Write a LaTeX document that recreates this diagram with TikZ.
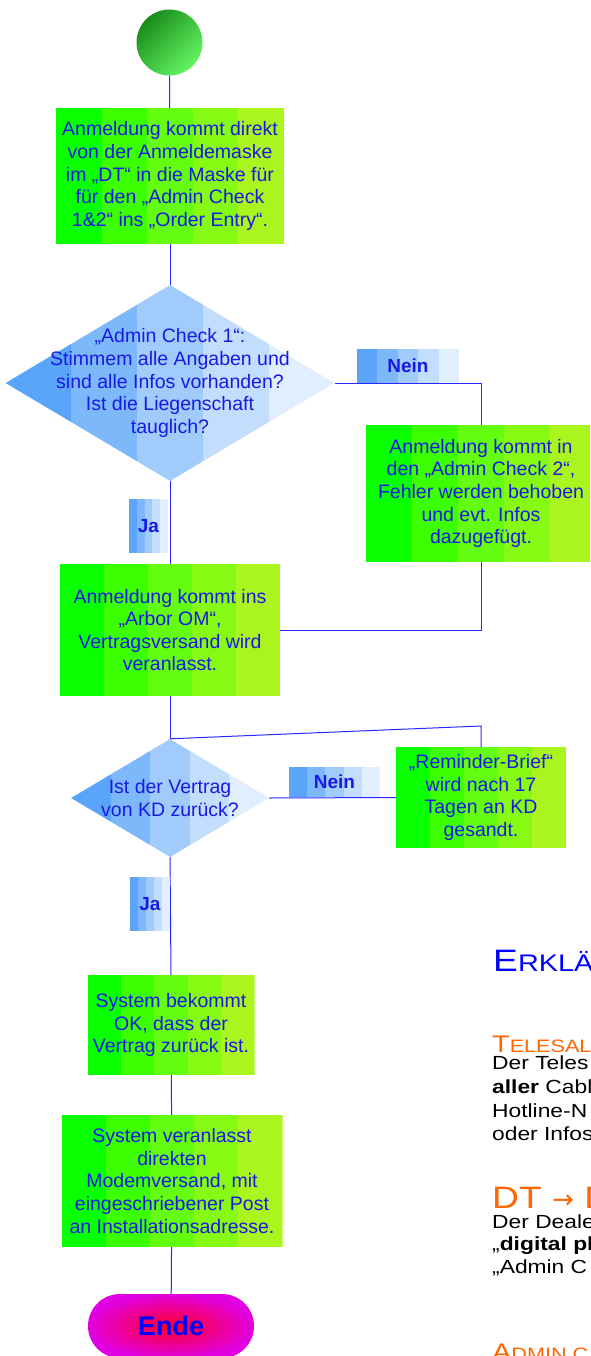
\documentclass[tikz,border=0pt]{standalone}
\usepackage{fontspec}
\setmainfont{Liberation Sans}
\newfontfamily\arrowfont{DejaVu Sans}
\newfontfamily\explfont[FakeStretch=1.2]{Liberation Sans}
\usetikzlibrary{calc, shapes.geometric}

\definecolor{grA}{RGB}{10,255,0}
\definecolor{grB}{RGB}{60,255,0}
\definecolor{grC}{RGB}{100,253,15}
\definecolor{grD}{RGB}{135,250,20}
\definecolor{grE}{RGB}{170,245,30}
\definecolor{blA}{RGB}{90,165,250}
\definecolor{blB}{RGB}{125,185,250}
\definecolor{blC}{RGB}{160,203,250}
\definecolor{blD}{RGB}{195,222,252}
\definecolor{blE}{RGB}{225,238,253}
\definecolor{txtblue}{RGB}{25,25,230}
\definecolor{lineblue}{RGB}{40,40,255}
\definecolor{headorange}{RGB}{255,102,0}

\begin{document}
\begin{tikzpicture}[
  x=1pt, y=-1pt,
  greenstripes/.style={path picture={
    \foreach \col/\sa/\sb in {grA/0/.2, grB/.2/.4, grC/.4/.6, grD/.6/.8, grE/.8/1}
      \fill[\col] ($(path picture bounding box.south west)!\sa!(path picture bounding box.south east)$)
        rectangle ($(path picture bounding box.north west)!\sb!(path picture bounding box.north east)$);}},
  bluestripes/.style={path picture={
    \foreach \col/\sa/\sb in {blA/0/.2, blB/.2/.4, blC/.4/.6, blD/.6/.8, blE/.8/1}
      \fill[\col] ($(path picture bounding box.south west)!\sa!(path picture bounding box.south east)$)
        rectangle ($(path picture bounding box.north west)!\sb!(path picture bounding box.north east)$);}},
  boxtext/.style={text=txtblue, align=center, font=\fontsize{19.5}{22.6}\selectfont},
  greenbox/.style={rectangle, inner sep=0pt, greenstripes, boxtext},
  bluediamond/.style={diamond, inner sep=0pt, bluestripes},
  bluetag/.style={rectangle, inner sep=0pt, bluestripes, text=txtblue,
    font=\bfseries\fontsize{19}{20}\selectfont},
  startdot/.style={circle, inner sep=0pt, minimum size=66pt,
    top color={rgb,255:red,25;green,140;blue,25}, bottom color={rgb,255:red,100;green,245;blue,100},
    shading angle=45},
  endpill/.style={rectangle, rounded corners=32pt, minimum width=166pt, minimum height=64pt,
    inner color={rgb,255:red,255;green,0;blue,40}, outer color={rgb,255:red,225;green,0;blue,225},
    text=blue, font=\bfseries\fontsize{27}{30}\selectfont},
  flowline/.style={draw=lineblue, line width=1pt},
  expltext/.style={anchor=base west, inner sep=0pt, font=\explfont\fontsize{19}{22}\selectfont},
  explhead/.style={anchor=base west, inner sep=0pt, text=headorange, font=\explfont},
]
  \useasboundingbox (0,0) rectangle (590,1356);
  \clip (0,0) rectangle (590,1356);

  % Ablauf
  \node[startdot] (start) at (169.5,42.5) {};
  \node[greenbox, minimum width=228pt, minimum height=136pt] (direkt) at (170,176)
    {Anmeldung kommt direkt\\von der Anmeldemaske\\im „DT“ in die Maske für\\für den „Admin Check\\1\&2“ ins „Order Entry“.};
  \node[bluediamond, minimum width=329pt, minimum height=196pt] (check1) at (170,383) {};
  \node[boxtext, inner sep=0pt] (check1txt) at (check1)
    {„Admin Check 1“:\\Stimmem alle Angaben und\\sind alle Infos vorhanden?\\Ist die Liegenschaft\\tauglich?};
  \node[greenbox, minimum width=230pt, minimum height=137pt] (check2) at (481,493.5)
    {Anmeldung kommt in\\den „Admin Check 2“,\\Fehler werden behoben\\und evt. Infos\\dazugefügt.};
  \node[greenbox, minimum width=220pt, minimum height=132pt] (arbor) at (170,630)
    {Anmeldung kommt ins\\„Arbor OM“,\\Vertragsversand wird\\veranlasst.};
  \node[bluediamond, minimum width=198pt, minimum height=118pt] (zurueck) at (170,798) {};
  \node[boxtext, inner sep=0pt] (zurueckTxt) at (zurueck) {Ist der Vertrag\\von KD zurück?};
  \node[greenbox, minimum width=170pt, minimum height=101pt] (reminder) at (481,797.5)
    {„Reminder-Brief“\\wird nach 17\\Tagen an KD\\gesandt.};
  \node[greenbox, minimum width=167pt, minimum height=100pt] (systemok) at (171,1025)
    {System bekommt\\OK, dass der\\Vertrag zurück ist.};
  \node[greenbox, minimum width=221pt, minimum height=132pt] (modem) at (172,1181)
    {System veranlasst\\direkten\\Modemversand, mit\\eingeschriebener Post\\an Installationsadresse.};
  \node[endpill] (ende) at (171,1326) {Ende};

  % Verbindungen
  \draw[flowline] (start) -- (direkt);
  \draw[flowline] (direkt) -- (check1);
  \draw[flowline] (check1.east) -| (check2.north);
  \draw[flowline] (check1.south) -- (arbor.north);
  \draw[flowline] (check2.south) |- (arbor.east);
  \draw[flowline] (arbor) -- (zurueck);
  \coordinate (remtop) at (481,726);
  \draw[flowline] (reminder.north) -- (remtop) -- (zurueck.north);
  \draw[flowline] (zurueck.east) -- (reminder.west);
  \draw[flowline] (zurueck.south) -- (systemok.north);
  \draw[flowline] (systemok) -- (modem);
  \draw[flowline] (modem) -- (ende);

  % Ja / Nein
  \node[bluetag, minimum width=102pt, minimum height=34pt] (nein1) at (408,366) {Nein};
  \node[bluetag, minimum width=39pt, minimum height=54pt] (ja1) at (148.5,526) {Ja};
  \node[bluetag, minimum width=91pt, minimum height=30pt] (nein2) at (334.5,782) {Nein};
  \node[bluetag, minimum width=40pt, minimum height=54pt] (ja2) at (150,904) {Ja};

  % Erklaerung (rechts abgeschnitten)
  \node[explhead, text=blue] (erkl) at (493,971)
    {\fontsize{31}{31}\selectfont E\fontsize{24}{24}\selectfont RKLÄR};
  \node[explhead] (telesales) at (492,1052)
    {\fontsize{24}{24}\selectfont T\fontsize{18}{18}\selectfont ELESAL};
  \node[expltext] (tsA) at (492,1069) {Der Teles};
  \node[expltext] (tsB) at (492,1093) {\textbf{aller} Cabl};
  \node[expltext] (tsC) at (492,1117) {Hotline-N};
  \node[expltext] (tsD) at (492,1140) {oder Infos};
  \node[explhead] (dtd) at (492,1208)
    {\fontsize{31}{31}\selectfont DT {\arrowfont\fontsize{26}{26}\selectfont →} D};
  \node[expltext] (dtA) at (492,1228) {Der Deale};
  \node[expltext] (dtB) at (492,1250) {„\textbf{digital ph}};
  \node[expltext] (dtC) at (492,1273) {„Admin C};
  \node[explhead] (admin) at (492,1360)
    {\fontsize{24}{24}\selectfont A\fontsize{18}{18}\selectfont DMIN C};
\end{tikzpicture}
\end{document}
